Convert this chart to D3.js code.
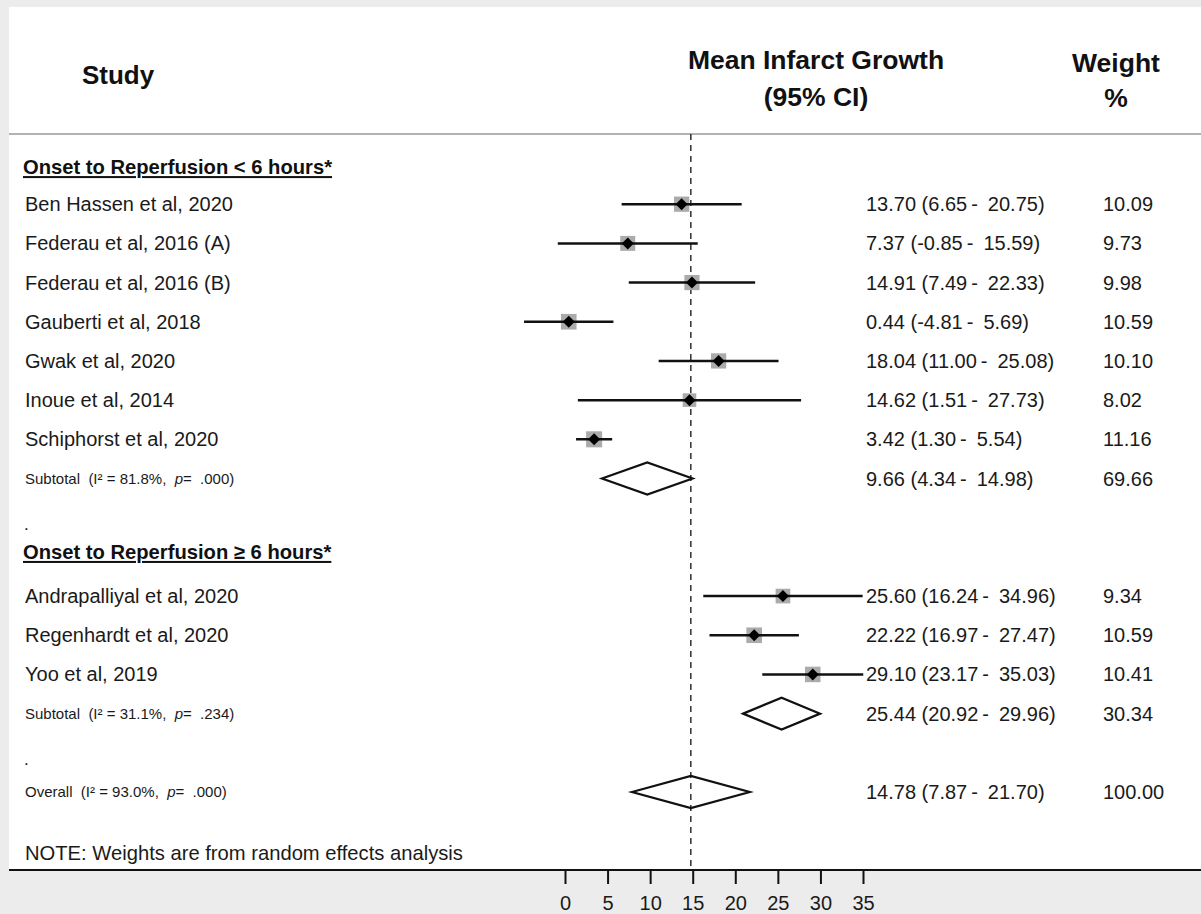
<!DOCTYPE html>
<html>
<head>
<meta charset="utf-8">
<script src="https://cdn.jsdelivr.net/npm/d3@7"></script>
<style>
  body { margin: 0; background: #ececec; }
  svg { display: block; font-family: "Liberation Sans", Arial, sans-serif; }
  .pre { white-space: pre; }
</style>
</head>
<body>
<svg width="1201" height="914"></svg>
<script>
// studies, in display order
var studies = ["Ben Hassen et al, 2020", "Federau et al, 2016 (A)", "Federau et al, 2016 (B)",
  "Gauberti et al, 2018", "Gwak et al, 2020", "Inoue et al, 2014", "Schiphorst et al, 2020",
  "Andrapalliyal et al, 2020", "Regenhardt et al, 2020", "Yoo et al, 2019"];
var group  = [1, 1, 1, 1, 1, 1, 1, 2, 2, 2];
var est    = [13.70, 7.37, 14.91, 0.44, 18.04, 14.62, 3.42, 25.60, 22.22, 29.10];
var lo     = [6.65, -0.85, 7.49, -4.81, 11.00, 1.51, 1.30, 16.24, 16.97, 23.17];
var hi     = [20.75, 15.59, 22.33, 5.69, 25.08, 27.73, 5.54, 34.96, 27.47, 35.03];
var weight = [10.09, 9.73, 9.98, 10.59, 10.10, 8.02, 11.16, 9.34, 10.59, 10.41];

// pooled estimates
var poolNames = ["sub1", "sub2", "overall"];
var poolLabel = [["Subtotal  (I² = 81.8%,  ", "=  .000)"], ["Subtotal  (I² = 31.1%,  ", "=  .234)"], ["Overall  (I² = 93.0%,  ", "=  .000)"]];
var poolEst   = [9.66, 25.44, 14.78];
var poolLo    = [4.34, 20.92, 7.87];
var poolHi    = [14.98, 29.96, 21.70];
var poolW     = [69.66, 30.34, 100.00];

var groupTitles = ["Onset to Reperfusion < 6 hours*", "Onset to Reperfusion ≥ 6 hours*"];
var xTicks = [0, 5, 10, 15, 20, 25, 30, 35];

var svg = d3.select("svg"),
    width = +svg.attr("width"),
    height = +svg.attr("height");

var f2 = function(v) { return v.toFixed(2); };
var ci = function(e, l, h) { return f2(e) + " (" + f2(l) + "\u2009-\u2002" + f2(h) + ")"; };

// row order
var rows = ["h1"].concat(d3.range(7).map(function(i) { return "s" + i; }), ["sub1", "gap1", "h2"],
  d3.range(7, 10).map(function(i) { return "s" + i; }), ["sub2", "gap2", "overall"]);

var y = d3.scalePoint().domain(rows).range([165, 792]);
var x = d3.scaleLinear().domain([0, 35]).range([565, 863]);

var panelTop = 7, axisY = 870, panelLeft = 9;
var fs = 20;

// white panel
svg.append("rect")
    .attr("x", panelLeft).attr("y", panelTop)
    .attr("width", width - panelLeft).attr("height", axisY - panelTop)
    .attr("fill", "#fff");

// header
svg.append("line")
    .attr("x1", panelLeft).attr("x2", width)
    .attr("y1", 134).attr("y2", 134)
    .attr("stroke", "#9a9a9a").attr("stroke-width", 1.5);

var hdr = svg.append("g").attr("font-weight", "bold").attr("font-size", 26.5).attr("fill", "#111")
    .attr("text-anchor", "middle");
hdr.append("text").attr("x", 118).attr("y", 84).attr("font-size", 26).text("Study");
hdr.append("text").attr("x", 816).attr("y", 69).text("Mean Infarct Growth");
hdr.append("text").attr("x", 816).attr("y", 106).text("(95% CI)");
hdr.append("text").attr("x", 1116).attr("y", 72).text("Weight");
hdr.append("text").attr("x", 1116).attr("y", 107).text("%");

// overall estimate dashed line
svg.append("line")
    .attr("x1", x(poolEst[2])).attr("x2", x(poolEst[2]))
    .attr("y1", 134).attr("y2", axisY)
    .attr("stroke", "#111").attr("stroke-width", 1.3)
    .attr("stroke-dasharray", "6,5");

// group titles
groupTitles.forEach(function(t, i) {
  svg.append("text")
      .attr("x", 23).attr("y", y("h" + (i + 1)) + (i == 0 ? 2 : -5))
      .attr("dy", "0.35em")
      .attr("font-size", 20.2).attr("font-weight", "bold")
      .attr("text-decoration", "underline")
      .attr("fill", "#111")
      .text(t);
});

// gap dots
["gap1", "gap2"].forEach(function(g) {
  svg.append("text").attr("x", 24).attr("y", y(g) + 6).attr("dy", "0.35em")
      .attr("font-size", 17).attr("fill", "#111").text(".");
});

// study rows
var st = svg.append("g").selectAll("g")
    .data(studies)
    .enter().append("g")
      .attr("transform", function(d, i) { return "translate(0," + y("s" + i) + ")"; });

st.append("text")
    .attr("x", 25).attr("dy", "0.35em")
    .attr("font-size", fs).attr("fill", "#1a1a1a")
    .text(function(d) { return d; });

st.append("rect")
    .attr("x", function(d, i) { return x(est[i]) - 2.4 * Math.sqrt(weight[i]); })
    .attr("y", function(d, i) { return -2.4 * Math.sqrt(weight[i]); })
    .attr("width", function(d, i) { return 4.8 * Math.sqrt(weight[i]); })
    .attr("height", function(d, i) { return 4.8 * Math.sqrt(weight[i]); })
    .attr("fill", "#ababab");

st.append("line")
    .attr("x1", function(d, i) { return x(lo[i]); })
    .attr("x2", function(d, i) { return x(hi[i]); })
    .attr("stroke", "#111").attr("stroke-width", 2.5);

st.append("path")
    .attr("d", function(d, i) {
      var cx = x(est[i]);
      return "M" + (cx - 6) + ",0L" + cx + ",-6L" + (cx + 6) + ",0L" + cx + ",6Z";
    })
    .attr("fill", "#000");

st.append("text")
    .attr("x", 866).attr("dy", "0.35em")
    .attr("font-size", fs).attr("fill", "#1a1a1a")
    .text(function(d, i) { return ci(est[i], lo[i], hi[i]); });

st.append("text")
    .attr("x", 1103).attr("dy", "0.35em")
    .attr("font-size", fs).attr("fill", "#1a1a1a")
    .text(function(d, i) { return f2(weight[i]); });

// pooled rows
var pl = svg.append("g").selectAll("g")
    .data(poolNames)
    .enter().append("g")
      .attr("transform", function(d) { return "translate(0," + y(d) + ")"; });

var lab = pl.append("text")
    .attr("class", "pre")
    .attr("x", 25).attr("dy", "0.35em")
    .attr("font-size", 15).attr("fill", "#1a1a1a");
lab.append("tspan").text(function(d, i) { return poolLabel[i][0]; });
lab.append("tspan").attr("font-style", "italic").text("p");
lab.append("tspan").text(function(d, i) { return poolLabel[i][1]; });

pl.append("path")
    .attr("d", function(d, i) {
      var a = x(poolLo[i]), b = x(poolHi[i]), c = x(poolEst[i]);
      return "M" + a + ",0L" + c + ",-16L" + b + ",0L" + c + ",16Z";
    })
    .attr("fill", "none").attr("stroke", "#111").attr("stroke-width", 2.2);

pl.append("text")
    .attr("x", 866).attr("dy", "0.35em")
    .attr("font-size", fs).attr("fill", "#1a1a1a")
    .text(function(d, i) { return ci(poolEst[i], poolLo[i], poolHi[i]); });

pl.append("text")
    .attr("x", 1103).attr("dy", "0.35em")
    .attr("font-size", fs).attr("fill", "#1a1a1a")
    .text(function(d, i) { return f2(poolW[i]); });

// note
svg.append("text")
    .attr("x", 25).attr("y", 853).attr("dy", "0.35em")
    .attr("font-size", 20.2).attr("fill", "#1a1a1a")
    .text("NOTE: Weights are from random effects analysis");

// axis
svg.append("line")
    .attr("x1", panelLeft).attr("x2", width)
    .attr("y1", axisY).attr("y2", axisY)
    .attr("stroke", "#111").attr("stroke-width", 2);

var axis = svg.append("g")
    .attr("transform", "translate(0," + axisY + ")")
    .call(d3.axisBottom(x).tickValues(xTicks).tickSize(14).tickPadding(12));
axis.select(".domain").remove();
axis.selectAll(".tick line").attr("stroke", "#111").attr("stroke-width", 2);
axis.selectAll(".tick text").attr("font-size", fs).attr("fill", "#1a1a1a")
    .attr("font-family", "Liberation Sans, Arial, sans-serif");
</script>
</body>
</html>
